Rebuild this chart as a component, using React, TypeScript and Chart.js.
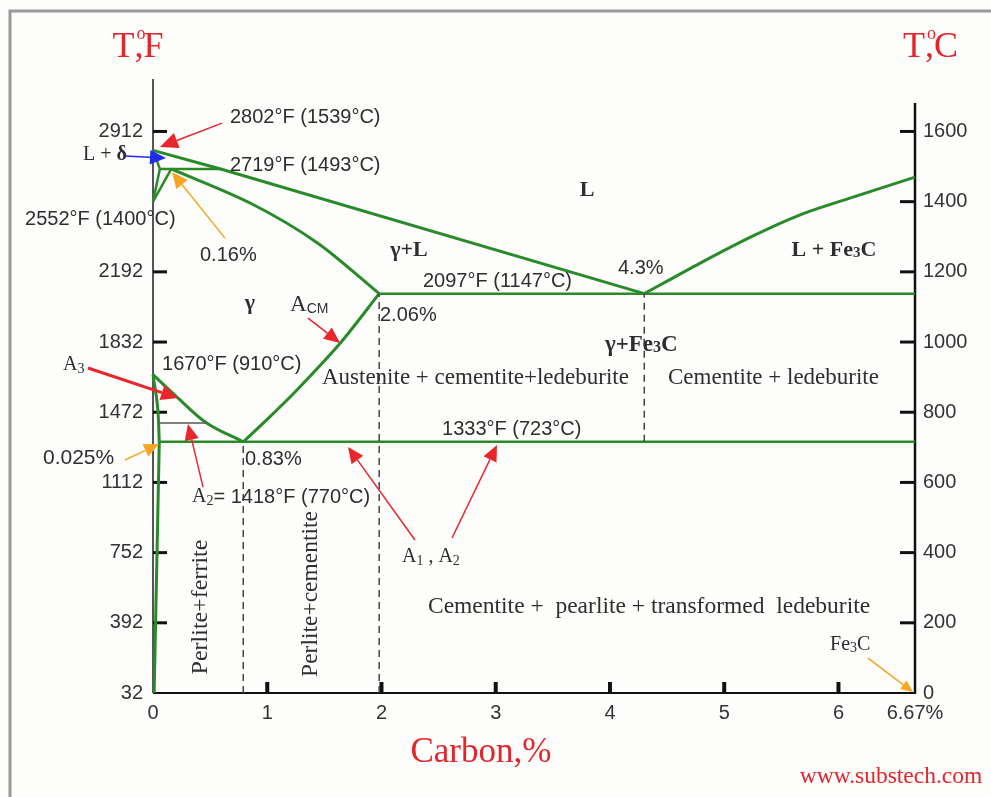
import React, { useEffect, useRef } from 'react';
import { Chart, registerables } from 'chart.js';
Chart.register(...registerables);

const SANS = '"Liberation Sans", Arial, sans-serif';
const SERIF = '"Liberation Serif", "Times New Roman", serif';

// ---- axis ticks ----
const X_TICKS = [0, 1, 2, 3, 4, 5, 6, 6.67];
const F_TICKS = [32, 392, 752, 1112, 1472, 1832, 2192, 2912];
const C_TICKS = [0, 200, 400, 600, 800, 1000, 1200, 1400, 1600];
const F_MIN = 32;
const F_MAX = 3099;
const C_MIN = 0;
const C_MAX = (F_MAX - 32) / 1.8;
const X_MAX = 6.67;

// ---- phase boundaries: [carbon %, temperature °F] ----
type Pt = [number, number];
const LIQUIDUS_LEFT: Pt[] = [[0, 2815], [0.6, 2718], [4.3, 2080]];
const LIQUIDUS_RIGHT: Pt[] = [[4.3, 2080], [4.79, 2237], [5.23, 2370], [5.66, 2483], [6.1, 2570], [6.67, 2678]];
const DELTA_SOLIDUS: Pt[] = [[0, 2815], [0.06, 2720]];
const PERITECTIC: Pt[] = [[0.06, 2720], [0.6, 2720]];
const DELTA_GAMMA_UPPER: Pt[] = [[0, 2552], [0.06, 2720]];
const DELTA_GAMMA_LOWER: Pt[] = [[0, 2552], [0.16, 2720]];
const GAMMA_SOLIDUS: Pt[] = [[0.16, 2720], [0.85, 2545], [1.44, 2340], [1.98, 2080]];
const EUTECTIC: Pt[] = [[1.98, 2080], [6.67, 2080]];
const ACM: Pt[] = [[0.79, 1320], [1.02, 1447], [1.26, 1586], [1.64, 1827], [1.98, 2080]];
const A3_LINE: Pt[] = [[0, 1665], [0.21, 1550], [0.47, 1417], [0.79, 1320]];
const ALPHA: Pt[] = [[0, 1665], [0.04, 1500], [0.055, 1320]];
const FERRITE_SOLVUS: Pt[] = [[0.055, 1320], [0.01, 32]];
const EUTECTOID: Pt[] = [[0.055, 1320], [6.67, 1320]];
const CURIE: Pt[] = [[0.06, 1417], [0.47, 1417]];
const DASH_EUTECTOID: Pt[] = [[0.79, 32], [0.79, 1320]];
const DASH_206: Pt[] = [[1.98, 32], [1.98, 2080]];
const DASH_EUTECTIC: Pt[] = [[4.3, 1320], [4.3, 2080]];

// ---- annotations (positions in carbon % / °F) ----
type Run = { t: string; f: string; dy?: number; over?: string; overF?: string; overDy?: number };
type Label = { x: number; y: number; align: 'left' | 'center' | 'right'; color: string; runs: Run[]; rot?: number };
const TXT = '#2e2e2e';
const RED = '#e3262c';
const num = `20px ${SANS}`;
const ser = `23px ${SERIF}`;
const bser = `bold 22px ${SERIF}`;
const LABELS: Label[] = [
  { x: 0.674, y: 2986, align: 'left', color: TXT, runs: [{ t: '2802°F (1539°C)', f: num }] },
  { x: 0.674, y: 2740, align: 'left', color: TXT, runs: [{ t: '2719°F (1493°C)', f: num }] },
  { x: -0.613, y: 2791, align: 'left', color: TXT, runs: [{ t: 'L + ', f: `20px ${SERIF}` }, { t: 'δ', f: `bold 20px ${SERIF}` }] },
  { x: -1.12, y: 2458, align: 'left', color: TXT, runs: [{ t: '2552°F (1400°C)', f: num }] },
  { x: 0.411, y: 2278, align: 'left', color: TXT, runs: [{ t: '0.16%', f: num }] },
  { x: 2.24, y: 2304, align: 'center', color: TXT, runs: [{ t: 'γ+L', f: bser }] },
  { x: 3.8, y: 2611, align: 'center', color: TXT, runs: [{ t: 'L', f: bser }] },
  { x: 2.363, y: 2145, align: 'left', color: TXT, runs: [{ t: '2097°F (1147°C)', f: num }] },
  { x: 4.07, y: 2211, align: 'left', color: TXT, runs: [{ t: '4.3%', f: num }] },
  { x: 5.59, y: 2304, align: 'left', color: TXT, runs: [{ t: 'L + Fe', f: `bold 22px ${SERIF}` }, { t: '3', f: `bold 15px ${SERIF}`, dy: 3 }, { t: 'C', f: `bold 22px ${SERIF}` }] },
  { x: 0.849, y: 2032, align: 'center', color: TXT, runs: [{ t: 'γ', f: bser }] },
  { x: 1.2, y: 2022, align: 'left', color: TXT, runs: [{ t: 'A', f: ser }, { t: 'CM', f: `14px ${SANS}`, dy: 4 }] },
  { x: 1.987, y: 1970, align: 'left', color: TXT, runs: [{ t: '2.06%', f: num }] },
  { x: 3.956, y: 1817, align: 'left', color: TXT, runs: [{ t: 'γ+Fe', f: `bold 23px ${SERIF}` }, { t: '3', f: `bold 16px ${SERIF}`, dy: 3 }, { t: 'C', f: `bold 23px ${SERIF}` }] },
  { x: 1.479, y: 1647, align: 'left', color: TXT, runs: [{ t: 'Austenite + cementite+ledeburite', f: ser }] },
  { x: 4.508, y: 1647, align: 'left', color: TXT, runs: [{ t: 'Cementite + ledeburite', f: ser }] },
  { x: 0.079, y: 1719, align: 'left', color: TXT, runs: [{ t: '1670°F (910°C)', f: num }] },
  { x: -0.788, y: 1714, align: 'left', color: TXT, runs: [{ t: 'A', f: `20px ${SERIF}` }, { t: '3', f: `14px ${SERIF}`, dy: 4 }] },
  { x: 2.53, y: 1381, align: 'left', color: TXT, runs: [{ t: '1333°F (723°C)', f: num }] },
  { x: -0.963, y: 1237, align: 'left', color: TXT, runs: [{ t: '0.025%', f: `21px ${SANS}` }] },
  { x: 0.805, y: 1232, align: 'left', color: TXT, runs: [{ t: '0.83%', f: num }] },
  { x: 0.342, y: 1037, align: 'left', color: TXT, runs: [{ t: 'A', f: `20px ${SERIF}` }, { t: '2', f: `14px ${SERIF}`, dy: 4 }, { t: '= 1418°F (770°C)', f: num }] },
  { x: 0.42, y: 473, align: 'center', color: TXT, rot: -90, runs: [{ t: 'Perlite+ferrite', f: `24px ${SERIF}` }] },
  { x: 1.383, y: 540, align: 'center', color: TXT, rot: -90, runs: [{ t: 'Perlite+cementite', f: `23.5px ${SERIF}` }] },
  { x: 2.179, y: 729, align: 'left', color: TXT, runs: [{ t: 'A', f: `20px ${SERIF}` }, { t: '1', f: `14px ${SERIF}`, dy: 4 }, { t: ' , A', f: `20px ${SERIF}` }, { t: '2', f: `14px ${SERIF}`, dy: 4 }] },
  { x: 2.407, y: 473, align: 'left', color: TXT, runs: [{ t: 'Cementite +  pearlite + transformed  ledeburite', f: `23.5px ${SERIF}` }] },
  { x: 5.926, y: 278, align: 'left', color: TXT, runs: [{ t: 'Fe', f: `20px ${SERIF}` }, { t: '3', f: `14px ${SERIF}`, dy: 3 }, { t: 'C', f: `20px ${SERIF}` }] },
  { x: -0.131, y: 3340, align: 'center', color: RED, runs: [{ t: 'T', f: `36px ${SERIF}` }, { t: ',', f: `36px ${SERIF}`, over: 'o', overF: `18px ${SERIF}`, overDy: -14 }, { t: 'F', f: `36px ${SERIF}` }] },
  { x: 6.805, y: 3340, align: 'center', color: RED, runs: [{ t: 'T', f: `36px ${SERIF}` }, { t: ',', f: `36px ${SERIF}`, over: 'o', overF: `18px ${SERIF}`, overDy: -14 }, { t: 'C', f: `36px ${SERIF}` }] },
  { x: 2.87, y: -276, align: 'center', color: RED, runs: [{ t: 'Carbon,%', f: `35px ${SERIF}` }] },
  { x: 6.46, y: -399, align: 'center', color: RED, runs: [{ t: 'www.substech.com', f: `23.5px ${SERIF}` }] },
];

const ARROW_RED = '#e8262b';
const ARROW_ORANGE = '#f5a524';
const ARROW_BLUE = '#1f2cf0';
type Arrow = { from: Pt; to: Pt; color: string; w: number; head: number };
const ARROWS: Arrow[] = [
  { from: [0.604, 2955], to: [0.061, 2832], color: ARROW_RED, w: 1.5, head: 18 },
  { from: [-0.245, 2786], to: [0.114, 2776], color: ARROW_BLUE, w: 1.5, head: 16 },
  { from: [0.63, 2365], to: [0.166, 2704], color: ARROW_ORANGE, w: 1.5, head: 16 },
  { from: [-0.569, 1699], to: [0.219, 1545], color: ARROW_RED, w: 3, head: 17 },
  { from: [0.438, 1088], to: [0.306, 1411], color: ARROW_RED, w: 1.5, head: 16 },
  { from: [-0.245, 1227], to: [0.053, 1309], color: ARROW_ORANGE, w: 1.5, head: 15 },
  { from: [1.357, 1955], to: [1.637, 1827], color: ARROW_RED, w: 1.5, head: 16 },
  { from: [2.293, 817], to: [1.707, 1294], color: ARROW_RED, w: 1.5, head: 16 },
  { from: [2.617, 827], to: [3.011, 1304], color: ARROW_RED, w: 1.5, head: 16 },
  { from: [6.258, 211], to: [6.652, 37], color: ARROW_ORANGE, w: 1.5, head: 12 },
];

const GREEN = '#2a8a2a';

function drawRuns(ctx: CanvasRenderingContext2D, x: number, y: number, runs: Run[], align: string, color: string) {
  const widths = runs.map((r) => { ctx.font = r.f; return ctx.measureText(r.t).width; });
  const total = widths.reduce((a, b) => a + b, 0);
  let cx = align === 'left' ? x : align === 'center' ? x - total / 2 : x - total;
  ctx.textBaseline = 'middle';
  ctx.textAlign = 'left';
  ctx.fillStyle = color;
  runs.forEach((r, i) => {
    ctx.font = r.f;
    ctx.fillText(r.t, cx, y + (r.dy || 0));
    if (r.over) {
      ctx.font = r.overF || r.f;
      const ow = ctx.measureText(r.over).width;
      ctx.fillText(r.over, cx + widths[i] / 2 - ow / 2 + 2, y + (r.overDy || 0));
    }
    cx += widths[i];
  });
}

function drawArrow(ctx: CanvasRenderingContext2D, x1: number, y1: number, x2: number, y2: number, color: string, w: number, head: number) {
  const ang = Math.atan2(y2 - y1, x2 - x1);
  const hw = head * 0.45;
  const bx = x2 - head * Math.cos(ang);
  const by = y2 - head * Math.sin(ang);
  ctx.strokeStyle = color;
  ctx.lineWidth = w;
  ctx.beginPath();
  ctx.moveTo(x1, y1);
  ctx.lineTo(bx, by);
  ctx.stroke();
  ctx.fillStyle = color;
  ctx.beginPath();
  ctx.moveTo(x2, y2);
  ctx.lineTo(bx + hw * Math.sin(ang), by - hw * Math.cos(ang));
  ctx.lineTo(bx - hw * Math.sin(ang), by + hw * Math.cos(ang));
  ctx.closePath();
  ctx.fill();
}

const decor = {
  id: 'decor',
  beforeDraw(chart: any) {
    const { ctx, width, height } = chart;
    ctx.save();
    ctx.fillStyle = '#fdfdfb';
    ctx.fillRect(0, 0, width, height);
    ctx.strokeStyle = '#9a9a9a';
    ctx.lineWidth = 3;
    ctx.beginPath();
    ctx.moveTo(width, 11);
    ctx.lineTo(10, 11);
    ctx.lineTo(10, height);
    ctx.stroke();
    ctx.restore();
  },
  beforeDatasetsDraw(chart: any) {
    const { ctx, chartArea: a, scales } = chart;
    ctx.save();
    ctx.lineWidth = 2;
    ctx.strokeStyle = '#555';
    ctx.beginPath(); ctx.moveTo(a.left, a.top - 16); ctx.lineTo(a.left, a.bottom); ctx.stroke();
    ctx.strokeStyle = '#111';
    ctx.lineWidth = 2.5;
    ctx.beginPath(); ctx.moveTo(a.right, a.top + 8); ctx.lineTo(a.right, a.bottom + 1); ctx.stroke();
    ctx.lineWidth = 2;
    ctx.beginPath(); ctx.moveTo(a.left, a.bottom); ctx.lineTo(a.right, a.bottom); ctx.stroke();
    ctx.lineWidth = 3;
    F_TICKS.slice(1).forEach((v) => {
      const y = scales.y.getPixelForValue(v);
      ctx.beginPath(); ctx.moveTo(a.left, y); ctx.lineTo(a.left + 14, y); ctx.stroke();
    });
    C_TICKS.slice(1).forEach((v) => {
      const y = scales.yC.getPixelForValue(v);
      ctx.beginPath(); ctx.moveTo(a.right, y); ctx.lineTo(a.right - 15, y); ctx.stroke();
    });
    ctx.lineWidth = 4;
    X_TICKS.filter((v) => v > 0 && v < 6.5).forEach((v) => {
      const x = scales.x.getPixelForValue(v);
      ctx.beginPath(); ctx.moveTo(x, a.bottom); ctx.lineTo(x, a.bottom - 11); ctx.stroke();
    });
    ctx.restore();
  },
  afterDraw(chart: any) {
    const { ctx, scales } = chart;
    const px = (v: number) => scales.x.getPixelForValue(v);
    const py = (v: number) => scales.y.getPixelForValue(v);
    ctx.save();
    ARROWS.forEach((ar) => drawArrow(ctx, px(ar.from[0]), py(ar.from[1]), px(ar.to[0]), py(ar.to[1]), ar.color, ar.w, ar.head));
    LABELS.forEach((l) => {
      const x = px(l.x);
      const y = py(l.y);
      if (l.rot) {
        ctx.save();
        ctx.translate(x, y);
        ctx.rotate((l.rot * Math.PI) / 180);
        drawRuns(ctx, 0, 0, l.runs, l.align, l.color);
        ctx.restore();
      } else {
        drawRuns(ctx, x, y, l.runs, l.align, l.color);
      }
    });
    ctx.restore();
  },
};

const toXY = (a: Pt[]) => a.map(([x, y]) => ({ x, y }));

export default function App() {
  const ref = useRef<HTMLCanvasElement>(null);
  useEffect(() => {
    const canvas = ref.current;
    if (!canvas) return;
    const line = (pts: Pt[], extra: any = {}) => ({
      data: toXY(pts),
      borderColor: GREEN,
      borderWidth: 3,
      pointRadius: 0,
      showLine: true,
      tension: 0,
      clip: false,
      ...extra,
    });
    const dashed = { borderColor: '#444', borderWidth: 1.5, borderDash: [7, 5] };
    const tickFont = { family: SANS, size: 20 };
    const chart = new Chart(canvas, {
      type: 'scatter',
      data: {
        datasets: [
          line(DASH_EUTECTOID, dashed),
          line(DASH_206, dashed),
          line(DASH_EUTECTIC, dashed),
          line(CURIE, { borderColor: '#555', borderWidth: 1.5 }),
          line(LIQUIDUS_LEFT),
          line(LIQUIDUS_RIGHT, { tension: 0.3 }),
          line(DELTA_SOLIDUS, { borderWidth: 2.5 }),
          line(PERITECTIC, { borderWidth: 2.5 }),
          line(DELTA_GAMMA_UPPER, { borderWidth: 2.5 }),
          line(DELTA_GAMMA_LOWER, { borderWidth: 2.5 }),
          line(GAMMA_SOLIDUS, { tension: 0.3 }),
          line(EUTECTIC, { borderWidth: 2.5 }),
          line(ACM, { tension: 0.3 }),
          line(A3_LINE, { tension: 0.35 }),
          line(ALPHA, { tension: 0.4 }),
          line(FERRITE_SOLVUS),
          line(EUTECTOID, { borderWidth: 2.5 }),
        ] as any,
      },
      options: {
        responsive: false,
        animation: false,
        events: [],
        layout: { padding: { top: 95, left: 0, right: 0, bottom: 0 } },
        plugins: { legend: { display: false }, tooltip: { enabled: false } },
        scales: {
          x: {
            type: 'linear',
            min: 0,
            max: X_MAX,
            afterBuildTicks: (s: any) => { s.ticks = X_TICKS.map((v) => ({ value: v })); },
            afterFit: (s: any) => { s.height = 104; },
            ticks: {
              autoSkip: false,
              maxRotation: 0,
              padding: 8,
              color: '#333',
              font: tickFont,
              callback: (v: any) => (Math.abs(v - 6.67) < 1e-6 ? '6.67%' : String(v)),
            },
            grid: { display: false, drawTicks: false },
            border: { display: false },
          },
          y: {
            type: 'linear',
            position: 'left',
            min: F_MIN,
            max: F_MAX,
            afterBuildTicks: (s: any) => { s.ticks = F_TICKS.map((v) => ({ value: v })); },
            afterFit: (s: any) => { s.width = 153; },
            ticks: { autoSkip: false, padding: 10, color: '#333', font: tickFont, callback: (v: any) => String(v) },
            grid: { display: false, drawTicks: false },
            border: { display: false },
          },
          yC: {
            type: 'linear',
            position: 'right',
            min: C_MIN,
            max: C_MAX,
            afterBuildTicks: (s: any) => { s.ticks = C_TICKS.map((v) => ({ value: v })); },
            afterFit: (s: any) => { s.width = 76; },
            ticks: { autoSkip: false, padding: 8, color: '#333', font: tickFont, callback: (v: any) => String(v) },
            grid: { display: false, drawTicks: false },
            border: { display: false },
          },
        },
      } as any,
      plugins: [decor],
    });
    return () => chart.destroy();
  }, []);
  return (
    <div style={{ position: 'absolute', left: 0, top: 0, width: 991, height: 797 }}>
      <canvas ref={ref} width={991} height={797} style={{ width: 991, height: 797, display: 'block' }} />
    </div>
  );
}
